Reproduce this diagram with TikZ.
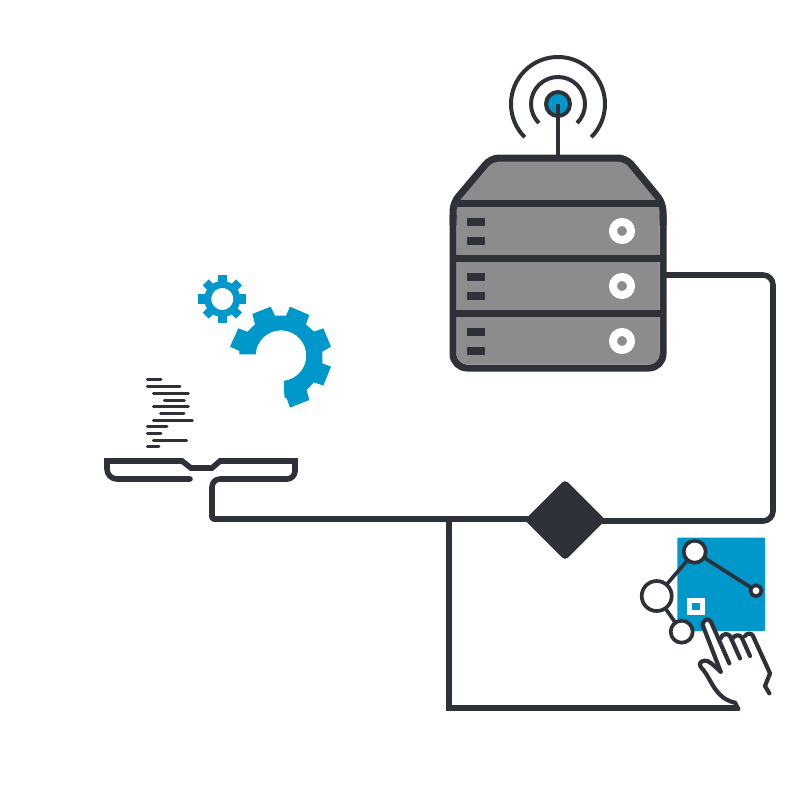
\documentclass[tikz,border=0pt]{standalone}
\usetikzlibrary{shapes.geometric}
\definecolor{ink}{HTML}{2E3238}
\definecolor{sky}{HTML}{0098CB}
\definecolor{steel}{HTML}{8C8C8C}
\tikzset{
  wire/.style={draw=ink,line width=5.6pt,line join=round},
  chassis/.style={draw=ink,line width=7pt,fill=steel,line join=round},
  shelf/.style={draw=ink,line width=7pt},
  lamp/.style={draw=white,line width=8pt,fill=steel},
  wave/.style={draw=ink,line width=4pt},
  code/.style={draw=ink,line width=3pt,line cap=round},
  graphnode/.style={draw=ink,line width=3.7pt,fill=white},
  graphedge/.style={draw=ink,line width=3.7pt},
  handline/.style={draw=ink,line width=4.2pt,line cap=round,line join=round},
  junction/.style={diamond,fill=ink,draw=none,minimum width=81pt,minimum height=81pt,inner sep=0pt,outer sep=0pt,rounded corners=4pt}
}
\begin{document}
\begin{tikzpicture}[x=1pt,y=1pt,yscale=-1]
\useasboundingbox (0,0) rectangle (800,800);
% antenna
\draw[wave] (558,104) ++(45:27) arc[start angle=45,end angle=-225,radius=27];
\draw[wave] (558,104) ++(45:47) arc[start angle=45,end angle=-225,radius=47];
\draw[wave,fill=sky] (558,104) circle[radius=12];
\draw[wave] (558,156) -- (558,104);
% server
\draw[chassis,rounded corners=8pt] (453,225) -- (453,203) -- (491,158) -- (626,158) -- (663,203) -- (663,225);
\draw[chassis,rounded corners=14pt,fill=none] (453,215) -- (453,368) -- (663,368) -- (663,215);
\fill[steel,rounded corners=11pt] (456.5,210) -- (456.5,364.5) -- (659.5,364.5) -- (659.5,210) -- cycle;
\draw[shelf] (453,203) -- (663,203);
\draw[shelf] (453,258) -- (663,258);
\draw[shelf] (453,313) -- (663,313);
\foreach \y in {0,55,110}{
  \fill[ink] (466.5,218+\y) rectangle (485,226+\y);
  \fill[ink] (466.5,237+\y) rectangle (485,244.5+\y);
  \draw[lamp] (622,231+\y) circle[radius=9];
}
\coordinate (srvport) at (665,275);
% junction and wires
\node[junction] (junc) at (565,520) {};
\coordinate (wrist) at (738,708);
\coordinate (elbow) at (212,519);
\draw[wire,rounded corners=10pt] (srvport) -- (773,275) -- (773,521) -- (junc.center |- 0,521);
\draw[wire,rounded corners=2pt] (junc.center |- 0,519) -- (elbow) -- (212,500);
\draw[wire,line join=miter] (449,517) -- (449,708) -- (wrist);
% tray
\draw[wire,rounded corners=8pt] (212,502) -- (212,479) -- (295,479) -- (295,461);
\draw[wire,line join=miter] (297.8,461) -- (220,461) -- (212,468) -- (191,468) -- (182,461) -- (104.2,461);
\draw[wire,rounded corners=10pt] (107,461) -- (107,479) -- (190,479);
\fill[ink] (190,479) circle[radius=2.8];
% code lines
\begin{scope}[shift={(95,370)},scale=1/3]
\draw[code] (157,27) -- (198,27);
\draw[code] (157,50) -- (255,50);
\draw[code] (175,70) -- (280,70);
\draw[code] (208,90) -- (268,90);
\draw[code] (175,110) -- (280,110);
\draw[code] (197,130) -- (267,130);
\draw[code] (175,150) -- (292,150);
\draw[code] (157,170) -- (216,170);
\draw[code] (157,190) -- (198,190);
\draw[code] (175,210) -- (275,210);
\draw[code] (157,230) -- (192,230);
\end{scope}
% gears
\begin{scope}[shift={(190,265)},scale=1/3]
\fill[sky] (282,348) -- (283,397) -- (290,400) -- (300,428) -- (358,405) -- (350,375) -- (372,352) -- (400,362) -- (423,305) -- (397,295) -- (397,260) -- (423,245) -- (400,190) -- (372,200) -- (348,178) -- (358,150) -- (300,125) -- (288,152) -- (255,152) -- (242,125) -- (187,147) -- (195,178) -- (172,200) -- (145,190) -- (120,245) -- (148,258) -- (148,268) -- (197,268)
 arc[start angle=183,end angle=442,radius=76] -- cycle;
\end{scope}
\begin{scope}[shift={(222.3,299)}]
\draw[draw=sky,line width=7pt] (0,0) circle[radius=14.5];
\foreach \a in {0,90,180,270}{\draw[draw=sky,line width=9.5pt] (\a:15) -- (\a:24);}
\foreach \a in {45,135,225,315}{\draw[draw=sky,line width=8.5pt] (\a:15) -- (\a:23.5);}
\end{scope}
% panel
\fill[sky,rounded corners=1pt] (677.3,537.5) rectangle (765,631);
\draw[draw=white,line width=5pt,fill=sky] (689.9,600) rectangle (702.5,612.6);
% graph
\node[graphnode,circle,minimum size=22pt,inner sep=0pt,outer sep=0pt] (ntop) at (694.7,551.7) {};
\node[graphnode,circle,minimum size=30pt,inner sep=0pt,outer sep=0pt] (nleft) at (656.7,596) {};
\node[graphnode,circle,minimum size=22pt,inner sep=0pt,outer sep=0pt] (nbot) at (681.7,631.7) {};
\node[graphnode,circle,minimum size=11pt,inner sep=0pt,outer sep=0pt] (nright) at (756,590.7) {};
\draw[graphedge] (ntop) -- (nleft);
\draw[graphedge] (nleft) -- (nbot);
\draw[graphedge] (ntop) -- (nright);
% hand
\begin{scope}[shift={(630,530)},scale=1/3]
\fill[white] (218,285) .. controls (222,262) and (240,262) .. (247,285) -- (272,325) -- (285,312) -- (300,315) -- (315,320) -- (335,322) -- (350,312) -- (365,312) -- (420,430) -- (405,470) -- (320,520) -- (275,505) -- (225,430) -- (208,400) -- (225,390) -- (272,425) -- cycle;
\draw[handline] (272,425) -- (218,285) .. controls (222,262) and (240,262) .. (247,285) -- (298,400);
\draw[handline] (272,325) .. controls (276,312) and (292,308) .. (300,318) -- (330,385);
\draw[handline] (308,325) .. controls (314,315) and (328,312) .. (335,322) -- (360,378);
\draw[handline] (345,318) .. controls (350,310) and (362,308) .. (368,316) -- (420,430) -- (405,468) -- (418,490);
\draw[handline] (272,425) .. controls (250,405) and (235,390) .. (225,392) .. controls (205,395) and (205,405) .. (220,420) .. controls (245,450) and (255,505) .. (315,518) -- (325,537);
\end{scope}
\end{tikzpicture}
\end{document}
